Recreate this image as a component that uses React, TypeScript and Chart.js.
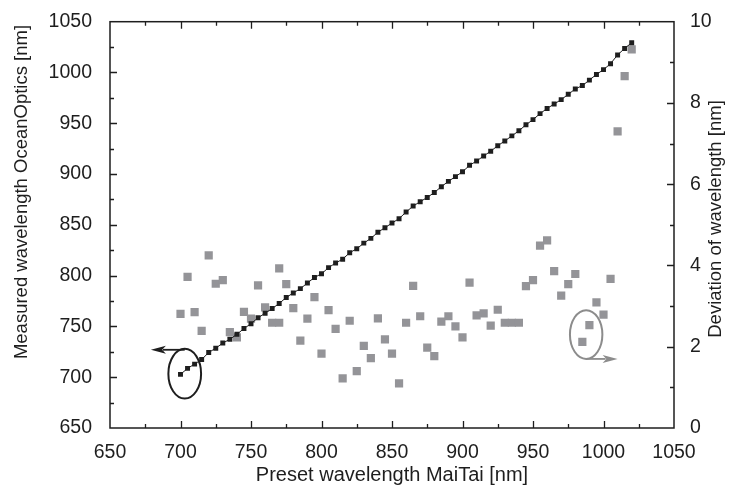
import { useEffect, useRef } from 'react';
import { Chart, registerables } from 'chart.js';

Chart.register(...registerables);

// Preset wavelength (MaiTai) for the measured series [nm]
const presetNm = [
  700, 705, 710, 715, 720, 725, 730, 735, 740, 745, 750, 755, 760, 765, 770, 775, 780,
  785, 790, 795, 800, 805, 810, 815, 820, 825, 830, 835, 840, 845, 850, 855, 860, 865,
  870, 875, 880, 885, 890, 895, 900, 905, 910, 915, 920, 925, 930, 935, 940, 945, 950,
  955, 960, 965, 970, 975, 980, 985, 990, 995, 1000, 1005, 1010, 1015, 1020,
];

// Measured wavelength (OceanOptics) [nm]
const measuredNm = [
  702.8, 708.7, 712.9, 717.4, 724.3, 728.6, 733.6, 737.4, 742.2, 747.9, 752.7, 758.5,
  763.0, 767.6, 772.6, 778.5, 783.0, 787.2, 792.7, 798.2, 801.8, 807.9, 812.4, 816.2,
  822.6, 826.4, 832.0, 836.7, 842.7, 847.2, 851.8, 856.1, 862.6, 868.5, 872.8, 877.0,
  881.8, 887.6, 892.8, 897.5, 902.2, 908.6, 912.8, 917.8, 922.5, 927.9, 932.6, 937.6,
  942.6, 948.5, 953.6, 959.5, 964.6, 968.9, 973.3, 978.5, 983.8, 987.1, 992.5, 998.1,
  1002.8, 1008.7, 1017.3, 1023.7, 1029.3,
];

// Preset wavelength for the deviation series [nm]
const deviationPresetNm = [
  700, 705, 710, 715, 720, 725, 730, 735, 740, 745, 750, 755, 760, 765, 770, 770, 775,
  780, 785, 790, 795, 800, 805, 810, 815, 820, 825, 830, 835, 840, 845, 850, 855, 860,
  865, 870, 875, 880, 885, 890, 895, 900, 905, 910, 915, 920, 925, 930, 935, 940, 945,
  950, 955, 960, 965, 970, 975, 980, 985, 990, 995, 1000, 1005, 1010, 1015, 1020,
];

// Deviation of wavelength [nm]
const deviationNm = [
  2.81, 3.72, 2.85, 2.39, 4.25, 3.55, 3.64, 2.36, 2.23, 2.86, 2.69, 3.51, 2.97, 2.59,
  2.59, 3.93, 3.54, 2.95, 2.15, 2.69, 3.22, 1.83, 2.9, 2.44, 1.22, 2.64, 1.4, 2.02, 1.72,
  2.7, 2.18, 1.83, 1.1, 2.59, 3.5, 2.75, 1.98, 1.77, 2.62, 2.75, 2.5, 2.23, 3.58, 2.77,
  2.82, 2.52, 2.91, 2.59, 2.59, 2.59, 3.49, 3.64, 4.49, 4.62, 3.86, 3.26, 3.54, 3.79,
  2.12, 2.53, 3.09, 2.79, 3.67, 7.3, 8.66, 9.32,
];

const xTitle = 'Preset wavelength MaiTai [nm]';
const yTitle = 'Measured wavelength OceanOptics [nm]';
const y1Title = 'Deviation of wavelength [nm]';

const FONT = '"Liberation Sans", Arial, Helvetica, sans-serif';
const INK = '#1e1e1e';
const GRAY = '#949498';

// annotation markers, in data units
const leftMarker = { cx: 703, cy: 703.5, rx: 11.6, ry: 24.4, arrowY: 727, from: 703, to: 679 };
const rightMarker = { cx: 987.7, cy: 2.3, rx: 11.5, ry: 0.6, arrowY: 1.7, from: 987.7, to: 1010 };

const framePlugin = {
  id: 'frameAndNotes',
  afterDraw(chart: any) {
    const { ctx, chartArea: a, scales } = chart;
    const x = scales.x;
    const y = scales.y;
    const y1 = scales.y1;
    ctx.save();
    // frame
    ctx.strokeStyle = INK;
    ctx.lineWidth = 1.5;
    ctx.strokeRect(a.left, a.top, a.right - a.left, a.bottom - a.top);
    // inward ticks
    ctx.lineWidth = 1.3;
    ctx.beginPath();
    for (let v = x.min + 25; v < x.max; v += 25) {
      const px = Math.round(x.getPixelForValue(v)) + 0.5;
      const len = v % 50 === 0 ? 7 : 4;
      ctx.moveTo(px, a.bottom);
      ctx.lineTo(px, a.bottom - len);
      ctx.moveTo(px, a.top);
      ctx.lineTo(px, a.top + len);
    }
    for (let v = y.min + 25; v < y.max; v += 25) {
      const py = Math.round(y.getPixelForValue(v)) + 0.5;
      const len = v % 50 === 0 ? 7 : 4;
      ctx.moveTo(a.left, py);
      ctx.lineTo(a.left + len, py);
    }
    for (let v = y1.min + 1; v < y1.max; v += 1) {
      const py = Math.round(y1.getPixelForValue(v)) + 0.5;
      const len = v % 2 === 0 ? 7 : 4;
      ctx.moveTo(a.right, py);
      ctx.lineTo(a.right - len, py);
    }
    ctx.stroke();

    const drawNote = (m: any, yScale: any, color: string) => {
      const cx = x.getPixelForValue(m.cx);
      const cy = yScale.getPixelForValue(m.cy);
      const rx = Math.abs(x.getPixelForValue(m.cx + m.rx) - cx);
      const ry = Math.abs(yScale.getPixelForValue(m.cy + m.ry) - cy);
      ctx.strokeStyle = color;
      ctx.fillStyle = color;
      ctx.lineWidth = 2;
      ctx.beginPath();
      ctx.ellipse(cx, cy, rx, ry, 0, 0, Math.PI * 2);
      ctx.stroke();
      const ay = yScale.getPixelForValue(m.arrowY);
      const x0 = x.getPixelForValue(m.from);
      const x1 = x.getPixelForValue(m.to);
      const dir = x1 > x0 ? 1 : -1;
      const head = 15;
      ctx.lineWidth = 1.8;
      ctx.beginPath();
      ctx.moveTo(x0, ay);
      ctx.lineTo(x1 - dir * head * 0.8, ay);
      ctx.stroke();
      ctx.beginPath();
      ctx.moveTo(x1, ay);
      ctx.lineTo(x1 - dir * head, ay - 4);
      ctx.lineTo(x1 - dir * head * 0.75, ay);
      ctx.lineTo(x1 - dir * head, ay + 4);
      ctx.closePath();
      ctx.fill();
    };
    drawNote(leftMarker, y, INK);
    drawNote(rightMarker, y1, '#8c8c8c');

    // vertical axis titles (both read bottom to top)
    ctx.fillStyle = INK;
    ctx.font = `18.5px ${FONT}`;
    ctx.textAlign = 'center';
    ctx.textBaseline = 'middle';
    ctx.save();
    ctx.translate(22, 192);
    ctx.rotate(-Math.PI / 2);
    ctx.fillText(yTitle, 0, 0);
    ctx.restore();
    ctx.save();
    ctx.translate(716, 219);
    ctx.rotate(-Math.PI / 2);
    ctx.fillText(y1Title, 0, 0);
    ctx.restore();
    ctx.restore();
  },
};

export default function App() {
  const ref = useRef<HTMLCanvasElement | null>(null);

  useEffect(() => {
    if (!ref.current) return;
    const tickFont = { family: FONT, size: 19.5 };
    const chart = new Chart(ref.current, {
      type: 'scatter',
      data: {
        datasets: [
          {
            label: 'Measured',
            data: presetNm.map((p, i) => ({ x: p, y: measuredNm[i] })),
            yAxisID: 'y',
            showLine: true,
            borderColor: INK,
            borderWidth: 1,
            backgroundColor: INK,
            pointStyle: 'rect',
            pointRadius: 3.5,
            pointBorderWidth: 0,
            pointHoverRadius: 3.5,
          },
          {
            label: 'Deviation',
            data: deviationPresetNm.map((p, i) => ({ x: p, y: deviationNm[i] })),
            yAxisID: 'y1',
            showLine: false,
            backgroundColor: GRAY,
            borderColor: GRAY,
            pointStyle: 'rect',
            pointRadius: 5.8,
            pointBorderWidth: 0,
            pointHoverRadius: 5.8,
          },
        ],
      },
      options: {
        responsive: false,
        maintainAspectRatio: false,
        animation: false,
        layout: { padding: { top: 18, left: 0, right: 0, bottom: 0 } },
        plugins: {
          legend: { display: false },
          tooltip: { enabled: false },
        },
        scales: {
          x: {
            type: 'linear',
            position: 'bottom',
            min: 650,
            max: 1050,
            grid: { display: false },
            border: { display: false },
            ticks: {
              stepSize: 50,
              autoSkip: false,
              maxRotation: 0,
              padding: 5,
              color: INK,
              font: tickFont,
              callback: (v: any) => String(v),
            },
            title: {
              display: true,
              text: xTitle,
              color: INK,
              font: { family: FONT, size: 20 },
              padding: { top: 0, bottom: 11 },
            },
            afterFit: (s: any) => {
              s.height = 70;
            },
          },
          y: {
            type: 'linear',
            position: 'left',
            min: 650,
            max: 1050,
            grid: { display: false },
            border: { display: false },
            ticks: {
              stepSize: 50,
              autoSkip: false,
              padding: 10,
              color: INK,
              font: tickFont,
              callback: (v: any) => String(v),
            },
            afterFit: (s: any) => {
              s.width = 110;
            },
          },
          y1: {
            type: 'linear',
            position: 'right',
            min: 0,
            max: 10,
            grid: { display: false },
            border: { display: false },
            ticks: {
              stepSize: 2,
              autoSkip: false,
              padding: 8,
              color: INK,
              font: tickFont,
              callback: (v: any) => String(v),
            },
            afterFit: (s: any) => {
              s.width = 60;
            },
          },
        },
      },
      plugins: [framePlugin],
    });
    return () => chart.destroy();
  }, []);

  return (
    <div style={{ position: 'fixed', left: 0, top: 0, width: 734, height: 498, background: '#fff' }}>
      <canvas ref={ref} width={734} height={498} style={{ display: 'block', width: 734, height: 498 }} />
    </div>
  );
}
